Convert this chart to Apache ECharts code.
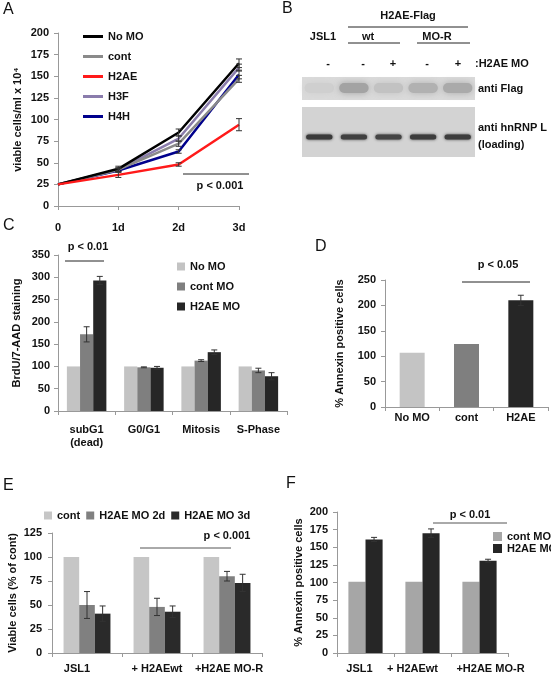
<!DOCTYPE html>
<html><head><meta charset="utf-8">
<script src="https://cdn.jsdelivr.net/npm/echarts@6/dist/echarts.min.js"></script>
<style>html,body{margin:0;padding:0;background:#fff}#c{width:551px;height:675px}</style>
</head><body><div id="c"></div><script>
// ---------- Panel A data ----------
const aDays = ['0', '1d', '2d', '3d'];
const aNoMO = [25, 43, 85, 165];
const aCont = [25, 42, 72, 147];
const aH2AE = [25, 36, 48, 94];
const aH3F  = [25, 42, 78, 160];
const aH4H  = [25, 41, 63, 152];
const aErrNoMO = [0, 3, 4, 5];
const aErrCont = [0, 2, 3, 4];
const aErrH2AE = [0, 3, 2, 7];
const aErrH3F  = [0, 2, 3, 4];
const aErrH4H  = [0, 2, 2, 5];
// ---------- Panel B data (blot band intensities) ----------
const bLanes = ['JSL1 -', 'wt -', 'wt +', 'MO-R -', 'MO-R +'];
const bFlag = [0.04, 0.3, 0.12, 0.22, 0.26];
const bHnrnp = [0.92, 0.88, 0.86, 0.9, 0.9];
// ---------- Panel C data ----------
const cCats = ['subG1\n(dead)', 'G0/G1', 'Mitosis', 'S-Phase'];
const cNoMO = [100, 100, 100, 100];
const cContMO = [172, 98, 113, 91];
const cH2AEMO = [293, 97, 132, 78];
const cErrCont = [17, 1, 2, 5];
const cErrH2AE = [9, 3, 5, 8];
// ---------- Panel D data ----------
const dCats = ['No MO', 'cont', 'H2AE'];
const dVals = [107, 124, 210];
const dErr = [0, 0, 10];
// ---------- Panel E data ----------
const eCats = ['JSL1', '+ H2AEwt', '+H2AE MO-R'];
const eCont = [100, 100, 100];
const eMO2d = [50, 48, 80];
const eMO3d = [41, 43, 73];
const eErr2d = [14, 9, 5];
const eErr3d = [8, 6, 9];
// ---------- Panel F data ----------
const fCats = ['JSL1', '+ H2AEwt', '+H2AE MO-R'];
const fContMO = [101, 101, 101];
const fH2AEMO = [161, 170, 131];
const fErrH2AE = [3, 6, 2];

const FONT = 'Liberation Sans, Arial, sans-serif';
const TXT = '#111';
const lbl = {fontFamily: FONT, fontWeight: 'bold', fontSize: 11, color: TXT};
const ZW = '\u200b';

function errSeries(xi, idx, n, gap, vals, errs, color) {
  return {
    type: 'custom', xAxisIndex: xi, yAxisIndex: xi, z: 10, silent: true,
    data: vals.map((v, i) => [i, v, errs[i]]),
    renderItem: (params, api) => {
      const i = api.value(0), v = api.value(1), e = api.value(2);
      if (!e) return null;
      const band = api.size([1, 0])[0];
      let off = 0;
      if (n > 0) {
        const total = band * (1 - gap);
        const w = total / n;
        off = -total / 2 + (idx + 0.5) * w;
      }
      const p1 = api.coord([i, v + e]), p2 = api.coord([i, v - e]);
      const x = p1[0] + off, cap = 3;
      const st = {stroke: color || '#333', lineWidth: 1};
      return {type: 'group', children: [
        {type: 'line', shape: {x1: x, y1: p1[1], x2: x, y2: p2[1]}, style: st},
        {type: 'line', shape: {x1: x - cap, y1: p1[1], x2: x + cap, y2: p1[1]}, style: st},
        {type: 'line', shape: {x1: x - cap, y1: p2[1], x2: x + cap, y2: p2[1]}, style: st}
      ]};
    }
  };
}

function yAx(gi, max, interval, name, nameGap, margin) {
  return {
    type: 'value', gridIndex: gi, min: 0, max: max, interval: interval,
    splitLine: {show: false},
    axisLine: {show: true, lineStyle: {color: '#999'}},
    axisTick: {show: true, length: 4, lineStyle: {color: '#999'}},
    axisLabel: Object.assign({margin: margin}, lbl),
    name: name, nameLocation: 'middle', nameGap: nameGap,
    nameTextStyle: {fontFamily: FONT, fontWeight: 'bold', fontSize: 11, color: TXT}
  };
}
function xAx(gi, data, margin, extra) {
  return Object.assign({
    type: 'category', gridIndex: gi, data: data,
    axisLine: {show: true, lineStyle: {color: '#999'}},
    axisTick: {show: true, length: 4, lineStyle: {color: '#999'}},
    axisLabel: Object.assign({margin: margin, interval: 0, lineHeight: 13}, lbl)
  }, extra || {});
}
// label nudges (style only)
function padCats(cats, pads) {
  return cats.map((c, i) => ({value: c, textStyle: {padding: pads[i]}}));
}

const lineCols = {'No MO': '#000000', 'cont': '#8a8a8a', 'H2AE': '#ff1a1a', 'H3F': '#8a7cac', 'H4H': '#00008c'};
function lineS(name, data) {
  return {type: 'line', name: name, xAxisIndex: 0, yAxisIndex: 0, data: data,
    symbol: 'none', lineStyle: {width: 2.5, color: lineCols[name]}, itemStyle: {color: lineCols[name]}};
}

function barS(name, xi, data, color, gap) {
  return {type: 'bar', name: name, xAxisIndex: xi, yAxisIndex: xi, data: data,
    barGap: '0%', barCategoryGap: gap, itemStyle: {color: color}};
}

const blotBg = {
  type: 'custom', xAxisIndex: 1, yAxisIndex: 1, silent: true, z: 1,
  data: [[0, 80, 57, 0], [0, 50, 0, 1]],
  renderItem: (params, api) => {
    const cs = params.coordSys;
    const t = api.coord([0, api.value(1)])[1], b = api.coord([0, api.value(2)])[1];
    return {type: 'rect', shape: {x: cs.x, y: t, width: cs.width, height: b - t},
      style: {fill: api.value(3) ? '#d3d3d3' : '#dadada'}};
  }
};
function bandSeries(vals, yc, hgt, wFrac, blur, z) {
  return {
    type: 'custom', xAxisIndex: 1, yAxisIndex: 1, silent: true, z: z,
    data: vals.map((v, i) => [i, yc, v]),
    renderItem: (params, api) => {
      const c = api.coord([api.value(0), api.value(1)]);
      const band = api.size([1, 0])[0];
      const w = band * wFrac;
      const g = Math.round(214 - api.value(2) * 170);
      const col = 'rgb(' + g + ',' + g + ',' + g + ')';
      return {type: 'rect', shape: {x: c[0] - w / 2, y: c[1] - hgt / 2, width: w, height: hgt, r: hgt / 2},
        style: {fill: col, shadowBlur: blur, shadowColor: col}};
    }
  };
}

function T(x, y, text, opt) {
  return {type: 'text', x: x, y: y, silent: true,
    style: Object.assign({text: text, fontFamily: FONT, fontWeight: 'bold', fontSize: 11, fill: TXT,
      textAlign: 'center', textVerticalAlign: 'middle'}, opt || {})};
}
function L(x1, y1, x2, y2, color) {
  return {type: 'line', silent: true, shape: {x1: x1, y1: y1, x2: x2, y2: y2},
    style: {stroke: color || '#333', lineWidth: 1}};
}
function letter(x, y, t) {
  return {type: 'text', x: x, y: y, silent: true,
    style: {text: t, fontFamily: FONT, fontSize: 16, fill: '#111', textAlign: 'left', textVerticalAlign: 'top'}};
}

const option = {
  animation: false,
  backgroundColor: '#fff',
  grid: [
    {left: 58, top: 33, width: 181, height: 173},   // A
    {left: 302, top: 77, width: 173, height: 80},   // B
    {left: 58, top: 255, width: 229, height: 156},  // C
    {left: 385, top: 280, width: 163, height: 127}, // D
    {left: 52, top: 533, width: 210, height: 122},  // E
    {left: 337, top: 512, width: 171, height: 143}  // F
  ],
  xAxis: [
    xAx(0, aDays, 15, {boundaryGap: false}),
    {type: 'category', gridIndex: 1, data: bLanes, show: false},
    xAx(2, cCats, 12),
    xAx(3, dCats, 4),
    xAx(4, padCats(eCats, [[0, 20, 0, 0], 0, [0, 0, 0, 4]]), 9),
    xAx(5, padCats(fCats, [[0, 12, 0, 0], [0, 20, 0, 0], [0, 0, 0, 22]]), 9)
  ],
  yAxis: [
    yAx(0, 200, 25, 'viable cells/ml x 10\u2074', 35, 9),
    {type: 'value', gridIndex: 1, min: 0, max: 80, show: false},
    yAx(2, 350, 50, 'BrdU/7-AAD staining', 36, 8),
    yAx(3, 250, 50, '% Annexin positive cells', 40, 9),
    yAx(4, 125, 25, 'Viable cells (% of cont)', 34, 10),
    yAx(5, 200, 25, '% Annexin positive cells', 33, 9)
  ],
  legend: [
    {data: ['No MO', 'cont', 'H2AE', 'H3F', 'H4H'], orient: 'vertical', left: 78, top: 26,
      itemGap: 9, itemWidth: 20, itemHeight: 3, icon: 'rect', textStyle: lbl, selectedMode: false},
    {data: ['No MO' + ZW, 'cont MO', 'H2AE MO'], orient: 'vertical', left: 172, top: 256,
      itemGap: 9, itemWidth: 8, itemHeight: 8, icon: 'rect', textStyle: lbl, selectedMode: false},
    {data: ['cont' + ZW, 'H2AE MO 2d', 'H2AE MO 3d'], orient: 'horizontal', left: 39, top: 505,
      itemGap: 6, itemWidth: 8, itemHeight: 8, icon: 'rect', textStyle: lbl, selectedMode: false},
    {data: ['cont MO' + ZW, 'H2AE MO' + ZW], orient: 'vertical', left: 488, top: 526,
      itemGap: 1, itemWidth: 9, itemHeight: 9, icon: 'rect', textStyle: lbl, selectedMode: false}
  ],
  series: [
    // A
    lineS('H4H', aH4H), lineS('H3F', aH3F), lineS('cont', aCont), lineS('No MO', aNoMO), lineS('H2AE', aH2AE),
    errSeries(0, 0, 0, 0, aNoMO, aErrNoMO),
    errSeries(0, 0, 0, 0, aCont, aErrCont),
    errSeries(0, 0, 0, 0, aH2AE, aErrH2AE),
    errSeries(0, 0, 0, 0, aH3F, aErrH3F),
    errSeries(0, 0, 0, 0, aH4H, aErrH4H),
    // B
    blotBg,
    bandSeries(bFlag, 69, 10, 0.85, 7, 2),
    bandSeries(bHnrnp, 20, 5, 0.76, 3, 3),
    // C
    barS('No MO' + ZW, 2, cNoMO, '#c3c3c3', '31%'),
    barS('cont MO', 2, cContMO, '#7f7f7f', '31%'),
    barS('H2AE MO', 2, cH2AEMO, '#262626', '31%'),
    errSeries(2, 1, 3, 0.31, cContMO, cErrCont),
    errSeries(2, 2, 3, 0.31, cH2AEMO, cErrH2AE),
    // D
    {type: 'bar', xAxisIndex: 3, yAxisIndex: 3, barCategoryGap: '54%',
      data: dVals.map((v, i) => ({value: v, itemStyle: {color: ['#c4c4c4', '#7f7f7f', '#262626'][i]}}))},
    errSeries(3, 0, 1, 0.54, dVals, dErr),
    // E
    barS('cont' + ZW, 4, eCont, '#c6c6c6', '33%'),
    barS('H2AE MO 2d', 4, eMO2d, '#808080', '33%'),
    barS('H2AE MO 3d', 4, eMO3d, '#2a2a2a', '33%'),
    errSeries(4, 1, 3, 0.33, eMO2d, eErr2d),
    errSeries(4, 2, 3, 0.33, eMO3d, eErr3d),
    // F
    barS('cont MO' + ZW, 5, fContMO, '#a6a6a6', '40%'),
    barS('H2AE MO' + ZW, 5, fH2AEMO, '#262626', '40%'),
    errSeries(5, 1, 2, 0.40, fH2AEMO, fErrH2AE)
  ],
  graphic: [
    letter(3, 2, 'A'), letter(282, 1, 'B'), letter(3, 218, 'C'),
    letter(315, 239, 'D'), letter(3, 478, 'E'), letter(286, 476, 'F'),
    // A p-value
    L(183, 174, 249, 174, '#222'), T(220, 186, 'p < 0.001'),
    // B labels
    T(408, 16, 'H2AE-Flag'), L(348, 27, 468, 27, '#222'),
    T(323, 37, 'JSL1'), T(368, 37, 'wt'), L(348, 43, 400, 43, '#222'),
    T(437, 37, 'MO-R'), L(417, 43, 470, 43, '#222'),
    T(328, 64, '-'), T(363, 64, '-'), T(393, 64, '+'), T(427, 64, '-'), T(458, 64, '+'),
    T(475, 64, ':H2AE MO', {textAlign: 'left'}),
    T(478, 89, 'anti Flag', {textAlign: 'left'}),
    T(478, 128, 'anti hnRNP L', {textAlign: 'left'}),
    T(478, 145, '(loading)', {textAlign: 'left'}),
    // C p-value
    T(88, 247, 'p < 0.01'), L(65, 261, 104, 261, '#222'),
    // D p-value
    T(498, 265, 'p < 0.05'), L(462, 282, 530, 282, '#222'),
    // E p-value
    T(227, 536, 'p < 0.001'), L(140, 548, 231, 548, '#555'),
    // F p-value
    T(470, 515, 'p < 0.01'), L(433, 523, 507, 523, '#555')
  ]
};
echarts.init(document.getElementById('c'), null, {renderer: 'canvas'}).setOption(option);
</script></body></html>
